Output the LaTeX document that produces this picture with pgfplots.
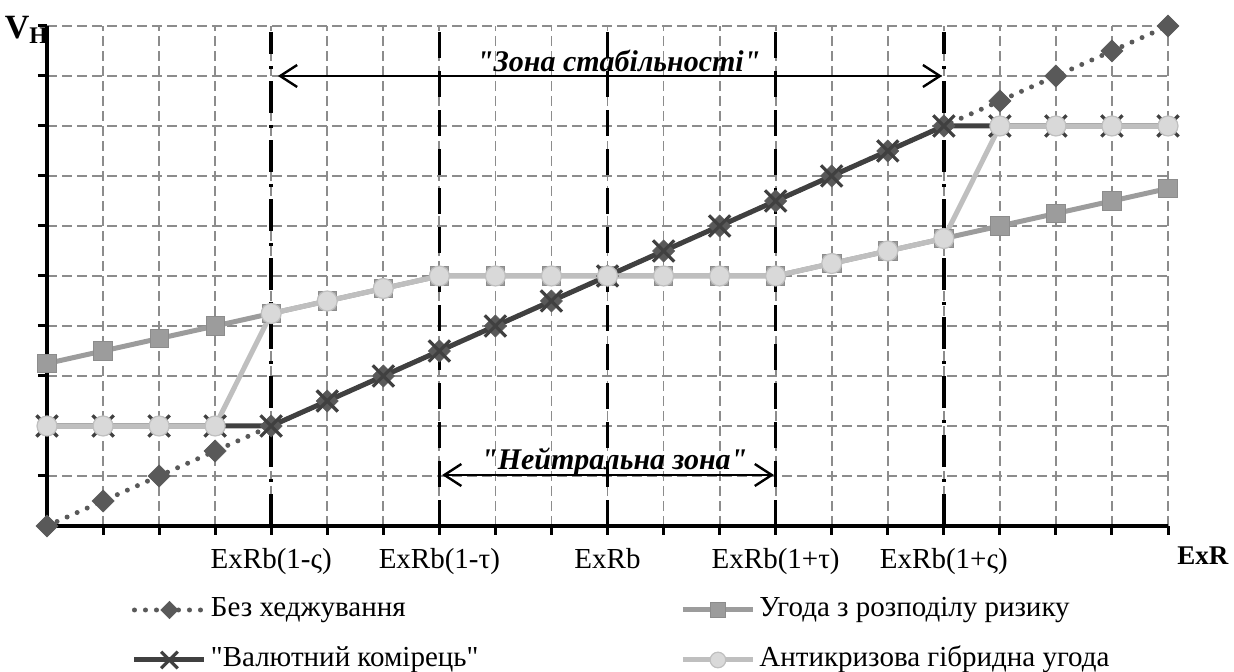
\documentclass[border=0pt]{standalone}
\usepackage{fontspec}
\setmainfont{Liberation Serif}[Ligatures=TeXOff]
\usepackage{pgfplots}
\pgfplotsset{compat=1.18}
\usetikzlibrary{arrows.meta}

\definecolor{cdia}{HTML}{595959}
\definecolor{csq}{HTML}{9C9C9C}
\definecolor{ccross}{HTML}{404040}
\definecolor{ccirc}{HTML}{D9D9D9}
\definecolor{ccircl}{HTML}{BFBFBF}
\definecolor{cgrid}{HTML}{8C8C8C}

% x, no hedge, risk sharing, collar, hybrid
\pgfplotstableread{
x  dia   sq    cr   ci
0  0     3.25  2    2
1  0.5   3.5   2    2
2  1     3.75  2    2
3  1.5   4     2    2
4  2     4.25  2    4.25
5  2.5   4.5   2.5  4.5
6  3     4.75  3    4.75
7  3.5   5     3.5  5
8  4     5     4    5
9  4.5   5     4.5  5
10 5     5     5    5
11 5.5   5     5.5  5
12 6     5     6    5
13 6.5   5     6.5  5
14 7     5.25  7    5.25
15 7.5   5.5   7.5  5.5
16 8     5.75  8    5.75
17 8.5   6     8    8
18 9     6.25  8    8
19 9.5   6.5   8    8
20 10    6.75  8    8
}\datatable

\begin{document}
\begin{tikzpicture}
\begin{axis}[
    scale only axis,
    width=560.5pt, height=250pt,
    xmin=0, xmax=20, ymin=0, ymax=10,
    clip=false,
    axis lines*=left,
    axis line style={-, line width=2.2pt, black},
    xtick={0,...,20},
    xticklabels={,,,,{ExRb(1-ς)},,,{ExRb(1-τ)},,,{ExRb},,,{ExRb(1+τ)},,,{ExRb(1+ς)},,,,},
    ytick={1,...,10},
    yticklabels={},
    tick align=outside,
    major tick length=4.5pt,
    tick style={black, line width=1.5pt},
    grid=major,
    major grid style={cgrid, line width=0.9pt, dash pattern=on 5pt off 2.5pt},
    xticklabel style={anchor=base, yshift=-17pt, font=\fontsize{14.5}{17}\selectfont},
    legend columns=2,
    legend cell align=left,
    legend style={at={(0.0758,-0.14)}, anchor=north west, draw=none, fill=none,
        inner sep=0pt, outer sep=0pt, row sep=11pt,
        font=\fontsize{14.5}{17}\selectfont,
        nodes={inner sep=0pt, text height=10.5pt, text depth=3.5pt},
        /tikz/every odd column/.append style={column sep=2pt},
        /tikz/column 2/.style={column sep=101pt}},
    legend image code/.code={\draw[mark repeat=2,mark phase=2,#1,every mark/.append style={scale=0.78}] plot coordinates {(0pt,0pt) (17.5pt,0pt) (35pt,0pt)};},
]
\addplot[cdia, line width=2.5pt, line cap=round, dash pattern=on 0pt off 5.5pt,
    mark=square*, mark size=3.9pt, mark options={solid, rotate=45, fill=cdia, draw=cdia, line width=0.3pt}]
    table[x=x, y=dia] {\datatable};
\addlegendentry{Без хеджування}
\addplot[csq, line width=2.5pt,
    mark=square*, mark size=4.6pt, mark options={fill=csq, draw=csq!90!black, line width=0.4pt}]
    table[x=x, y=sq] {\datatable};
\addlegendentry{Угода з розподілу ризику}
\addplot[ccross, line width=2.5pt,
    mark=x, mark size=7.5pt, mark options={line width=1.6pt}]
    table[x=x, y=cr] {\datatable};
\addlegendentry{"Валютний комірець"}
\addplot[ccircl, line width=2.5pt,
    mark=*, mark size=5pt, mark options={fill=ccirc, draw=ccircl, line width=0.6pt}]
    table[x=x, y=ci] {\datatable};
\addlegendentry{Антикризова гібридна угода}

% boundary lines
\addplot[forget plot, black, line width=1.75pt, dash pattern=on 16pt off 6pt on 1.5pt off 6pt] coordinates {(4,0) (4,9.88)};
\addplot[forget plot, black, line width=1.75pt, dash pattern=on 16pt off 6pt on 1.5pt off 6pt] coordinates {(16,0) (16,9.88)};
\addplot[forget plot, black, line width=1.75pt, dash pattern=on 13pt off 6.5pt] coordinates {(7,0) (7,9.88)};
\addplot[forget plot, black, line width=1.75pt, dash pattern=on 13pt off 6.5pt] coordinates {(10,0) (10,9.88)};
\addplot[forget plot, black, line width=1.75pt, dash pattern=on 13pt off 6.5pt] coordinates {(13,0) (13,9.88)};

\draw[{Straight Barb[length=8.5pt,width=11pt]}-{Straight Barb[length=8.5pt,width=11pt]}, line width=1.2pt]
    (axis cs:4.12,9) -- (axis cs:15.97,9);
\draw[{Straight Barb[length=8.5pt,width=11pt]}-{Straight Barb[length=8.5pt,width=11pt]}, line width=1.2pt]
    (axis cs:7.05,1.02) -- (axis cs:12.97,1.02);
\node[anchor=base, inner sep=0pt, font=\fontsize{15}{18}\selectfont\bfseries\itshape] at (axis cs:10.2,9.08) {"Зона стабільності"};
\node[anchor=base, inner sep=0pt, font=\fontsize{15}{18}\selectfont\bfseries\itshape] at (axis cs:10.12,1.12) {"Нейтральна зона"};
\node[inner sep=0pt, font=\fontsize{13.5}{16}\selectfont\bfseries] at (axis cs:20.62,-0.6) {ExR};
\node[inner sep=0pt, font=\fontsize{17}{20}\selectfont\bfseries] at (axis cs:-0.36,9.92) {V\textsubscript{H}};
\end{axis}
\pgfresetboundingbox
\useasboundingbox (-23.5pt,-73pt) rectangle (593.5pt,263pt);
\end{tikzpicture}
\end{document}
